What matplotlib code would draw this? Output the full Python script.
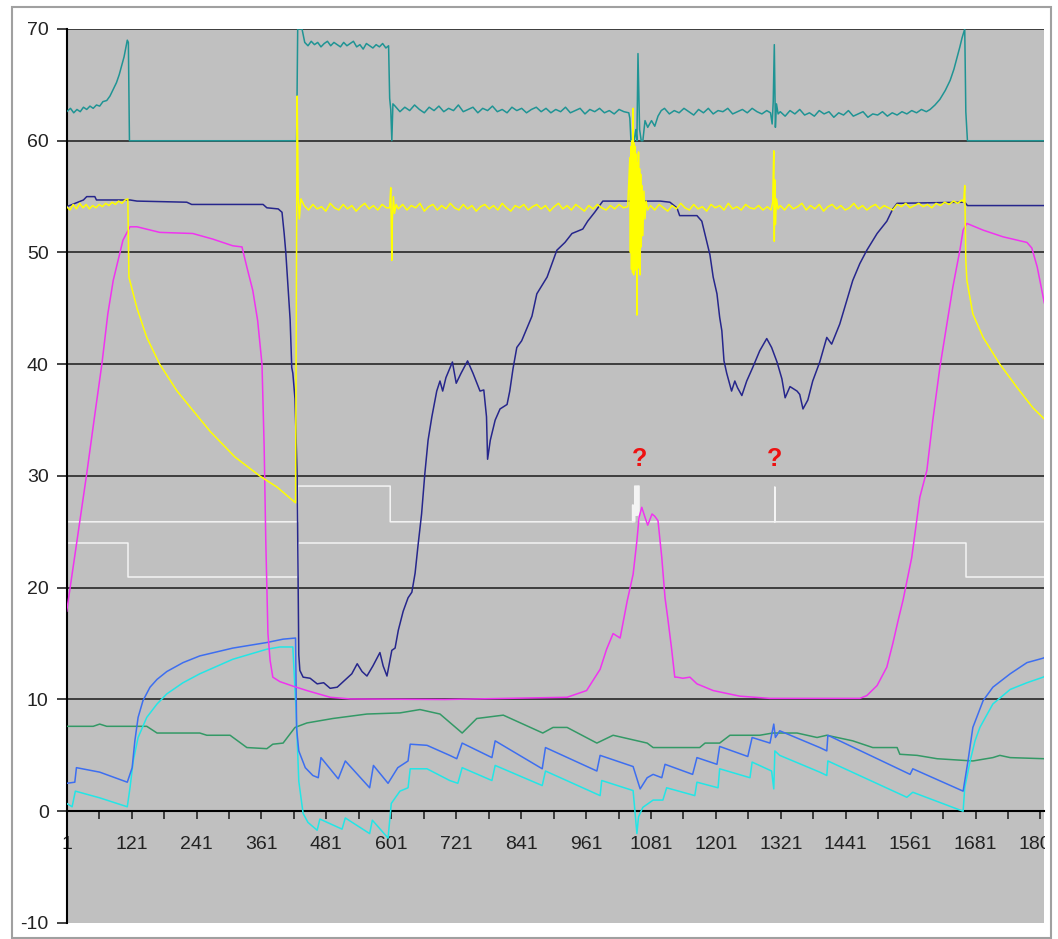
import matplotlib.pyplot as plt
from matplotlib.patches import Rectangle
from matplotlib.transforms import Bbox, TransformedBbox

plt.rcParams['font.family'] = ['Liberation Sans', 'DejaVu Sans']
plt.rcParams['axes.unicode_minus'] = False

# x = sample number, y = value

# teal trace, top band
teal_x = ([1, 8, 14, 20, 26, 32, 38, 44, 50, 56, 62, 68, 75, 81, 87, 93, 98, 103, 107, 111,
           113, 115, 117, 426, 428, 436]
          + list(range(441, 592, 6))
          + [596, 598, 600, 602, 604]
          + list(range(608, 1041, 9))
          + [1042, 1044, 1050, 1053, 1055, 1057, 1060, 1063, 1066, 1070, 1075, 1082, 1088, 1094, 1100]
          + list(range(1106, 1301, 9))
          + [1302, 1305, 1307, 1309, 1311, 1313, 1316]
          + list(range(1320, 1591, 9))
          + [1597, 1606, 1615, 1625, 1634, 1641, 1647, 1652, 1656, 1661, 1663, 1666, 1808])
teal_y = ([62.6, 62.9, 62.5, 62.8, 62.6, 63.0, 62.8, 63.1, 62.9, 63.2, 63.1, 63.5, 63.6, 64.0, 64.6,
           65.2, 65.9, 66.8, 67.5, 68.5, 69.0, 68.8, 60.0, 60.0, 70.0, 70.0]
          + [68.8, 68.5, 68.9, 68.6, 68.8, 68.4, 68.7, 68.9, 68.5, 68.8, 68.6, 68.4, 68.8, 68.5,
             68.7, 68.9, 68.4, 68.6, 68.2, 68.7, 68.5, 68.3, 68.6, 68.4, 68.7, 68.3]
          + [68.5, 63.8, 62.8, 60.0, 63.3]
          + [63.1, 62.6, 63.0, 62.7, 63.2, 62.8, 62.5, 63.0, 62.7, 63.1,
             62.6, 62.9, 62.7, 63.2, 62.6, 62.8, 63.0, 62.5, 62.9, 62.7,
             63.1, 62.6, 62.8, 62.5, 63.0, 62.7, 62.9, 62.5, 62.8, 63.0,
             62.6, 62.9, 62.5, 62.8, 62.6, 63.0, 62.5, 62.7, 62.9, 62.4,
             62.8, 62.6, 62.9, 62.5, 62.7, 62.4, 62.8, 62.6, 62.5]
          + [62.0, 60.0, 60.0, 61.0, 60.0, 67.8, 61.0, 60.0, 60.0, 61.8, 61.2, 61.8, 61.3, 62.2, 62.7]
          + [62.9, 62.4, 62.7, 62.5, 62.9, 62.6, 62.3, 62.8, 62.5, 62.9, 62.4,
             62.7, 62.6, 62.9, 62.4, 62.6, 62.8, 62.5, 62.9, 62.6, 62.4, 62.7]
          + [62.5, 61.5, 63.5, 68.6, 61.2, 63.3, 62.4]
          + [62.6, 62.2, 62.7, 62.4, 62.8, 62.3, 62.5, 62.2, 62.7, 62.4,
             62.6, 62.1, 62.5, 62.3, 62.7, 62.2, 62.4, 62.6, 62.1, 62.4,
             62.3, 62.6, 62.2, 62.5, 62.3, 62.6, 62.4, 62.7, 62.5, 62.8, 62.6]
          + [62.8, 63.2, 63.7, 64.5, 65.4, 66.4, 67.5, 68.4, 69.2, 70.0, 62.6, 60.0, 60.0])

# yellow trace
yellow_x = ([1, 7, 13, 19, 25, 31, 37, 43, 49, 55, 61, 67, 73, 79, 85, 91, 97, 103, 109, 114,
             116, 131, 149, 173, 205, 266, 312, 358, 390, 419, 424, 427, 429, 431, 434]
            + list(range(440, 593, 8))
            + [598, 600, 601, 602, 603, 605, 607, 610]
            + list(range(614, 1039, 8))
            + list(range(1042, 1065)) + [1066, 1068, 1070, 1072, 1075]
            + list(range(1080, 1297, 8))
            + [1303, 1306, 1308, 1309, 1310, 1311, 1313, 1316]
            + list(range(1320, 1657, 8))
            + [1659, 1661, 1663, 1665, 1676, 1695, 1726, 1758, 1787, 1806, 1808])
yellow_y = ([54.1, 53.8, 54.3, 53.9, 54.4, 54.0, 54.3, 53.9, 54.2, 54.0, 54.3, 54.1, 54.4, 54.2,
             54.5, 54.3, 54.6, 54.4, 54.7, 54.8,
             47.8, 45.0, 42.4, 40.0, 37.6, 34.0, 31.7, 30.0, 29.0, 27.8, 27.6, 64.0, 55.0, 53.0, 54.8]
            + [54.2, 53.8, 54.3, 53.9, 54.1, 53.7, 54.4, 54.0, 53.8, 54.3,
               53.9, 54.2, 53.7, 54.1, 54.4, 53.9, 54.2, 53.8, 54.3, 54.0]
            + [54.0, 55.8, 52.5, 49.3, 53.0, 55.0, 53.5, 54.3]
            + [53.9, 54.3, 53.8, 54.2, 54.0, 54.4, 53.7, 54.1, 54.3, 53.8,
               54.2, 53.9, 54.4, 54.0, 53.8, 54.3, 53.9, 54.2, 53.7, 54.1,
               54.3, 53.9, 54.2, 53.8, 54.4, 54.0, 53.7, 54.2, 54.0, 54.3,
               53.8, 54.1, 54.3, 53.9, 54.2, 53.7, 54.1, 54.4, 53.9, 54.2,
               53.8, 54.3, 54.0, 53.7, 54.2, 53.9, 54.3, 54.0, 53.8, 54.2,
               53.9, 54.3, 54.0, 54.1]
            + [58.5, 50.0, 59.5, 48.5, 60.0, 48.2, 62.9, 48.0, 59.8, 48.4, 59.5, 49.0, 58.8, 44.4,
               58.0, 48.6, 59.0, 49.0, 57.5, 48.0, 57.0, 50.5, 56.0, 51.5, 55.5, 53.0, 54.6, 53.8]
            + [54.2, 53.8, 54.3, 54.0, 53.7, 54.2, 53.9, 54.4, 54.0, 53.8,
               54.3, 53.9, 54.1, 53.7, 54.3, 54.0, 54.2, 53.8, 54.4, 53.9,
               54.1, 53.8, 54.3, 54.0, 53.9, 54.2, 53.8, 54.1]
            + [53.8, 54.5, 59.1, 51.0, 56.5, 52.5, 54.8, 53.9]
            + [54.2, 53.8, 54.3, 53.9, 54.1, 54.4, 53.8, 54.2, 53.9, 54.3,
               53.7, 54.1, 54.3, 53.9, 54.2, 53.8, 54.0, 54.4, 53.9, 54.2,
               53.8, 54.1, 54.3, 53.9, 54.2, 54.0, 53.8, 54.3, 54.1, 54.4,
               54.0, 54.2, 54.4, 54.1, 54.3, 54.0, 54.4, 54.2, 54.5, 54.3,
               54.6, 54.4, 54.7]
            + [54.5, 56.0, 49.3, 47.5, 44.5, 42.4, 40.0, 37.9, 36.1, 35.2, 35.1])

# navy trace
navy_x = [1, 32, 38, 53, 56, 118, 131, 223, 232, 364, 371, 392, 399, 403, 406, 410, 414, 417, 419, 423,
          427, 430, 432, 438, 451, 464, 476, 488, 501, 519, 528, 538, 547, 556, 567, 580, 586, 593, 602, 608,
          614, 623, 632, 639, 645, 650, 657, 663, 669, 676, 685, 691, 696, 702, 714, 721, 730, 742, 752, 765,
          772, 777, 779, 784, 793, 802, 815, 820, 826, 833, 842, 861, 870, 889, 907, 922, 935, 955, 964, 977,
          992, 1098, 1116, 1129, 1134, 1166, 1175, 1184, 1190, 1196, 1203, 1208, 1212, 1216, 1221, 1230,
          1236, 1241, 1249, 1258, 1269, 1282, 1295, 1304, 1314, 1323, 1329, 1338, 1351, 1356, 1362, 1371,
          1380, 1393, 1406, 1415, 1430, 1443, 1454, 1467, 1480, 1499, 1517, 1528, 1536, 1661, 1666, 1808]
navy_y = [54.1, 54.7, 55.0, 55.0, 54.7, 54.7, 54.6, 54.5, 54.3, 54.3, 54.0, 53.9, 53.6, 51.7, 50.0, 47.0,
          44.0, 39.7, 39.2, 36.9, 30.0, 14.0, 12.6, 12.0, 11.9, 11.4, 11.5, 11.0, 11.1, 11.9, 12.3, 13.2,
          12.5, 12.1, 13.0, 14.2, 13.0, 12.1, 14.4, 14.6, 16.2, 17.9, 19.1, 19.6, 21.3, 23.6, 26.6, 30.2,
          33.2, 35.3, 37.6, 38.5, 37.6, 38.8, 40.2, 38.3, 39.2, 40.3, 39.2, 37.6, 37.7, 35.3, 31.5, 33.2,
          35.0, 36.0, 36.4, 37.6, 39.6, 41.5, 42.1, 44.3, 46.3, 47.8, 50.2, 50.9, 51.7, 52.1, 52.8, 53.6,
          54.6, 54.6, 54.5, 54.0, 53.3, 53.3, 52.8, 51.0, 49.8, 47.8, 46.3, 44.2, 43.0, 40.3, 39.2, 37.6,
          38.5, 37.9, 37.2, 38.5, 39.7, 41.2, 42.3, 41.5, 40.2, 38.7, 37.0, 38.0, 37.6, 37.3, 36.0, 36.8,
          38.5, 40.2, 42.4, 41.8, 43.6, 45.7, 47.5, 49.0, 50.2, 51.7, 52.8, 53.9, 54.4, 54.5, 54.2, 54.2]

# magenta trace
mag_x = [1, 20, 38, 53, 66, 77, 87, 105, 118, 131, 173, 234, 271, 308, 325, 334, 345, 354, 362, 366,
         369, 373, 377, 382, 395, 419, 445, 488, 525, 700, 926, 962, 987, 999, 1011, 1024, 1037, 1048,
         1055, 1059, 1064, 1070, 1075, 1083, 1088, 1094, 1101, 1107, 1112, 1119, 1125, 1129, 1140, 1153,
         1166, 1196, 1245, 1301, 1467, 1480, 1499, 1517, 1528, 1538, 1547, 1563, 1578, 1591, 1602, 1615,
         1628, 1639, 1652, 1658, 1665, 1695, 1732, 1776, 1785, 1795, 1806, 1808]
mag_y = [17.9, 24.2, 30.2, 35.5, 40.0, 44.5, 47.5, 51.1, 52.3, 52.3, 51.8, 51.7, 51.2, 50.6, 50.5, 48.7,
         46.6, 43.9, 40.0, 32.6, 24.2, 15.9, 13.5, 12.0, 11.6, 11.2, 10.8, 10.2, 10.05, 10.0, 10.2, 10.8,
         12.7, 14.5, 15.9, 15.5, 18.8, 21.2, 24.2, 26.3, 27.2, 26.3, 25.6, 26.6, 26.4, 26.0, 22.7, 19.1,
         17.3, 14.6, 12.0, 12.0, 11.9, 12.0, 11.4, 10.8, 10.3, 10.1, 10.1, 10.35, 11.25, 12.9, 15.0, 17.1,
         18.9, 22.7, 28.1, 30.5, 35.0, 39.7, 43.6, 46.9, 50.2, 52.0, 52.6, 52.0, 51.4, 50.9, 50.4, 48.7,
         46.0, 45.5]

# two white step traces
w1_x = [1, 428, 428, 599, 599, 1047, 1047, 1048, 1048, 1051, 1051, 1052, 1053, 1054, 1055, 1056, 1057,
        1059, 1059, 1310, 1310, 1310, 1808]
w1_y = [25.9, 25.9, 29.1, 29.1, 25.9, 25.9, 27.4, 27.4, 25.9, 25.9, 29.1, 26.5, 29.1, 26.5, 29.1, 26.5,
        29.1, 29.1, 25.9, 25.9, 29.0, 25.9, 25.9]
w2_x = [1, 115, 115, 428, 428, 1663, 1663, 1808]
w2_y = [24.0, 24.0, 21.0, 21.0, 24.0, 24.0, 21.0, 21.0]

# blue trace
blue_x = [1, 16, 19, 62, 113, 122, 127, 133, 142, 155, 168, 186, 216, 247, 308, 371, 401, 424, 426, 430,
          442, 456, 466, 471, 503, 516, 561, 568, 595, 613, 632, 636, 667, 709, 722, 732, 787,
          793, 880, 886, 981, 987, 1048, 1061, 1074, 1085, 1101, 1107, 1158, 1166, 1203, 1208, 1260, 1268,
          1301, 1308, 1311, 1319, 1393, 1406, 1408, 1560, 1565, 1658, 1667, 1676, 1695, 1713, 1745, 1776,
          1806, 1808]
blue_y = [2.5, 2.6, 3.9, 3.5, 2.6, 3.9, 6.3, 8.4, 9.9, 11.1, 11.8, 12.5, 13.3, 13.9, 14.6, 15.1, 15.4,
          15.5, 7.4, 5.4, 3.9, 3.2, 3.0, 4.8, 2.9, 4.5, 2.1, 4.1, 2.5, 3.9, 4.5, 6.0, 5.9, 5.0,
          4.7, 6.1, 4.8, 6.3, 3.8, 5.7, 3.6, 5.0, 4.0, 2.0, 3.0, 3.3, 3.0, 4.2, 3.3, 4.8, 4.2, 5.8, 4.9,
          6.6, 6.1, 7.8, 6.6, 7.2, 5.7, 5.4, 6.8, 3.3, 3.8, 1.8, 4.5, 7.5, 9.9, 11.1, 12.3, 13.3, 13.7, 13.75]

# cyan trace
cyan_x = [1, 11, 17, 62, 113, 118, 124, 133, 149, 168, 186, 216, 247, 308, 371, 395, 419,
          425, 430, 438, 447, 464, 469, 510, 516, 561, 566, 595, 601, 617, 632, 636, 667,
          709, 724, 732, 787, 793, 880, 886, 987, 990, 1048, 1055, 1058, 1066, 1085, 1103, 1110, 1162,
          1166, 1205, 1208, 1264, 1268, 1304, 1308, 1310, 1319, 1393, 1406, 1408, 1554, 1565, 1658, 1661,
          1671, 1680, 1689, 1713, 1745, 1776, 1806, 1808]
cyan_y = [0.7, 0.4, 1.8, 1.2, 0.4, 2.1, 4.5, 6.6, 8.4, 9.6, 10.5, 11.5, 12.3, 13.6, 14.5, 14.7, 14.7,
          9.0, 2.7, -0.2, -1.0, -1.7, -0.7, -1.6, -0.6, -2.0, -0.8, -2.4, 0.7, 1.8, 2.1, 3.8, 3.8,
          2.75, 2.5, 3.9, 2.75, 4.1, 2.3, 3.6, 1.4, 2.75, 1.85, -2.0, -0.5, 0.35, 1.0, 1.0, 2.1, 1.4,
          2.6, 2.1, 3.8, 3.0, 4.4, 3.6, 2.0, 5.4, 5.0, 3.5, 3.2, 4.5, 1.25, 1.7, 0.0, 2.1,
          4.5, 6.3, 7.5, 9.6, 10.9, 11.5, 12.0, 12.05]

# green trace
green_x = [1, 50, 62, 75, 149, 168, 247, 260, 303, 334, 371, 382, 401, 423, 445, 493, 556, 617, 654, 691,
           732, 759, 808, 881, 900, 926, 981, 1011, 1074, 1085, 1171, 1181, 1208, 1227, 1282, 1306, 1351,
           1388, 1406, 1454, 1491, 1536, 1541, 1573, 1610, 1676, 1713, 1726, 1745, 1808]
green_y = [7.6, 7.6, 7.8, 7.6, 7.6, 7.0, 7.0, 6.8, 6.8, 5.7, 5.6, 6.0, 6.1, 7.5, 7.9, 8.3, 8.7, 8.8, 9.1,
           8.7, 7.0, 8.3, 8.6, 7.0, 7.5, 7.5, 6.1, 6.8, 6.1, 5.7, 5.7, 6.1, 6.1, 6.8, 6.8, 7.0, 7.0, 6.6,
           6.8, 6.3, 5.7, 5.7, 5.1, 5.0, 4.7, 4.5, 4.8, 5.0, 4.8, 4.7]

# question marks
note_x = [1060, 1310]
note_y = [31.5, 31.5]

y_ticks = [-10, 0, 10, 20, 30, 40, 50, 60, 70]
x_label_ticks = [1, 121, 241, 361, 481, 601, 721, 841, 961, 1081, 1201, 1321, 1441, 1561, 1681, 1801]
x_minor_ticks = [61, 181, 301, 421, 541, 661, 781, 901, 1021, 1141, 1261, 1381, 1501, 1621, 1741]

fig = plt.figure(figsize=(10.58, 9.39), dpi=100)
ax = fig.add_axes([0.06304, 0.01704, 0.92372, 0.95208])
ax.set_facecolor('#c0c0c0')
ax.set_xlim(1, 1807.5)
ax.set_ylim(-10, 70)

for yv in y_ticks[2:]:
    ax.axhline(yv, color='#333333', lw=1.3, zorder=1)

lw = 1.1
ax.plot(w2_x, w2_y, color='#f4f4f4', lw=lw, zorder=2)
ax.plot(w1_x, w1_y, color='#f4f4f4', lw=lw, zorder=2)
ax.plot(green_x, green_y, color='#339966', lw=lw, zorder=3)
ax.plot(cyan_x, cyan_y, color='#22e6e6', lw=lw, zorder=3)
ax.plot(blue_x, blue_y, color='#3d6ef0', lw=lw, zorder=3)
ax.plot(mag_x, mag_y, color='#f033f0', lw=lw, zorder=3)
ax.plot(navy_x, navy_y, color='#26268c', lw=lw, zorder=4)
ax.plot(teal_x, teal_y, color='#1f9494', lw=lw, zorder=4)
ax.plot(yellow_x, yellow_y, color='#ffff00', lw=lw, zorder=5)

for nx, ny in zip(note_x, note_y):
    ax.text(nx, ny, '?', color='#ee1111', fontsize=18, fontweight='bold',
            ha='center', va='center', zorder=6)

ax.spines['top'].set_visible(False)
ax.spines['right'].set_visible(False)
ax.spines['bottom'].set_position(('data', 0))
ax.spines['bottom'].set_linewidth(1.5)
ax.spines['left'].set_linewidth(1.5)

ax.set_yticks(y_ticks)
ax.set_yticklabels([str(v) for v in y_ticks])
ax.set_xticks(x_label_ticks)
ax.set_xticklabels([str(v) for v in x_label_ticks])
ax.set_xticks(x_minor_ticks, minor=True)
ax.tick_params(axis='y', direction='out', length=7, width=1.2, pad=6, labelsize=14, colors='#222222')
ax.tick_params(axis='x', which='both', direction='out', length=6, width=1.2, pad=12,
               labelsize=14, colors='#222222')

# the chart cuts the last category label at the plot edge
label_clip = TransformedBbox(Bbox.from_extents(58 / 1058, 0, 1044.5 / 1058, 1), fig.transFigure)
for lab in ax.get_xticklabels():
    lab.set_clip_box(label_clip)
    lab.set_clip_on(True)

fig.add_artist(Rectangle((12 / 1058, 1 - 938 / 939), 1039 / 1058, 931 / 939,
                         transform=fig.transFigure, fill=False, edgecolor='#a0a0a0', lw=1.5))

plt.savefig('out.png', dpi=100)
